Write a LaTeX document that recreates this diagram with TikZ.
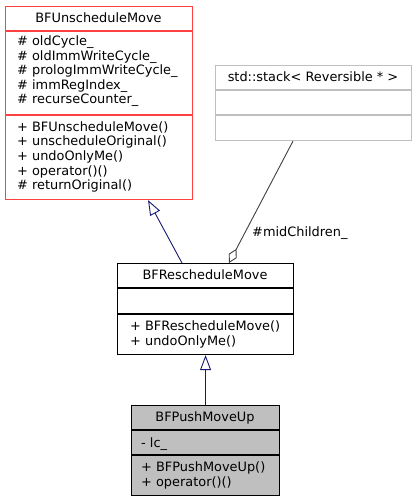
\documentclass[tikz,border=0pt]{standalone}
\usepackage{fontspec}
\setmainfont{DejaVu Sans}
\usetikzlibrary{arrows.meta}
\definecolor{dxred}{RGB}{255,64,64}
\definecolor{dxgrey}{RGB}{191,191,191}
\definecolor{dxlight}{RGB}{191,191,191}
\definecolor{dxblue}{RGB}{25,25,112}
\definecolor{dxdark}{RGB}{64,64,64}
\begin{document}
\begin{tikzpicture}[x=1pt,y=-1pt,
  box/.style={draw, line width=1.1pt, inner sep=0pt, anchor=north west, minimum width=#1},
  txt/.style={inner sep=0pt, anchor=base west, font=\fontsize{12.9}{14}\selectfont},
  ttl/.style={inner sep=0pt, anchor=base, font=\fontsize{12.9}{14}\selectfont},
  inh/.style={draw=dxblue, line width=0.9pt, -{Triangle[fill=white, length=15pt, width=11pt]}},
  agg/.style={draw=dxdark, line width=0.9pt, {Diamond[fill=white, length=16pt, width=9pt]}-}]
\useasboundingbox (0,0) rectangle (416,501);
% BFUnscheduleMove
\node[box=187pt, minimum height=193pt, draw=dxred, fill=white] (unsch) at (5,6) {};
\draw[dxred, line width=1.1pt] (5,31) -- (192,31) (5,115) -- (192,115);
\node[ttl] (t1) at (98.5,22.3) {BFUnscheduleMove};
\node[txt] (a1) at (17,45.5) {\# oldCycle\_};
\node[txt] (a2) at (17,60.1) {\# oldImmWriteCycle\_};
\node[txt] (a3) at (17,74.7) {\# prologImmWriteCycle\_};
\node[txt] (a4) at (17,89.3) {\# immRegIndex\_};
\node[txt] (a5) at (17,103.9) {\# recurseCounter\_};
\node[txt] (m1) at (17,131.2) {+ BFUnscheduleMove()};
\node[txt] (m2) at (17,145.8) {+ unscheduleOriginal()};
\node[txt] (m3) at (17,160.4) {+ undoOnlyMe()};
\node[txt] (m4) at (17,175) {+ operator()()};
\node[txt] (m5) at (17,189.6) {\# returnOriginal()};
% std::stack
\node[box=196pt, minimum height=75pt, draw=dxlight, fill=white] (stack) at (215,65) {};
\draw[dxlight, line width=1.1pt] (215,90) -- (411,90) (215,115) -- (411,115);
\node[ttl] (t2) at (313,81.5) {std::stack< Reversible * >};
% BFRescheduleMove
\node[box=176pt, minimum height=91pt, draw=black, fill=white] (resch) at (117,263) {};
\draw[black, line width=1.1pt] (117,288) -- (293,288) (117,314) -- (293,314);
\node[ttl] (t3) at (205,279.5) {BFRescheduleMove};
\node[txt] (r1) at (130,330.5) {+ BFRescheduleMove()};
\node[txt] (r2) at (130,345) {+ undoOnlyMe()};
% BFPushMoveUp
\node[box=148pt, minimum height=90pt, draw=black, fill=dxgrey] (push) at (131,405) {};
\draw[black, line width=1.1pt] (131,430) -- (279,430) (131,455) -- (279,455);
\node[ttl] (t4) at (205,421.5) {BFPushMoveUp};
\node[txt] (p1) at (141,447.5) {- lc\_};
\node[txt] (p2) at (141,471.5) {+ BFPushMoveUp()};
\node[txt] (p3) at (141,486) {+ operator()()};
% connectors
\draw[inh] ([xshift=65pt]resch.north west) -- ([xshift=143pt]unsch.south west);
\draw[inh] (push.north) -- (resch.south);
\draw[agg] ([xshift=112pt]resch.north west) -- ([xshift=78pt]stack.south west);
\node[txt] (lbl) at (252,236) {\#midChildren\_};
\end{tikzpicture}
\end{document}
